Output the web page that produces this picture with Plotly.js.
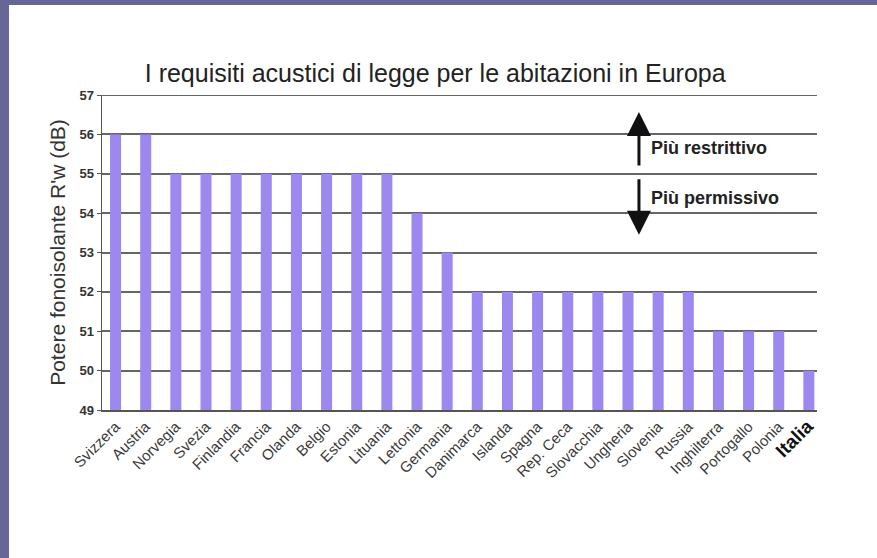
<!DOCTYPE html>
<html>
<head>
<meta charset="utf-8">
<script src="https://cdn.plot.ly/plotly-3.0.1.min.js"></script>
<style>
html, body { margin: 0; padding: 0; width: 877px; height: 558px; background: #666699; overflow: hidden; }
#chart { position: absolute; left: 9px; top: 5px; width: 868px; height: 553px; background: #ffffff; }
</style>
</head>
<body>
<div id="chart"></div>
<script>
var countries = ["Svizzera","Austria","Norvegia","Svezia","Finlandia","Francia","Olanda","Belgio","Estonia","Lituania","Lettonia","Germania","Danimarca","Islanda","Spagna","Rep. Ceca","Slovacchia","Ungheria","Slovenia","Russia","Inghilterra","Portogallo","Polonia","Italia"];
var values = [56,56,55,55,55,55,55,55,55,55,54,53,52,52,52,52,52,52,52,52,51,51,51,50];
var tickLabels = countries.map(function(c){ return c === "Italia" ? '<b style="font-size:19px;color:#111">Italia</b>' : c; });
var yTicks = [49,50,51,52,53,54,55,56,57];

var trace = {
  type: 'bar',
  x: countries,
  y: values,
  base: 0,
  marker: { color: '#9c88ee', line: { width: 0 } },
  hoverinfo: 'x+y'
};

var layout = {
  width: 868, height: 553,
  paper_bgcolor: '#ffffff', plot_bgcolor: '#ffffff',
  margin: { l: 93, r: 60, t: 90, b: 148 },
  showlegend: false,
  bargap: 0.635,
  font: { family: 'Liberation Sans, Arial, sans-serif', color: '#333' },
  title: {
    text: 'I requisiti acustici di legge per le abitazioni in Europa',
    font: { family: 'Liberation Sans, Arial, sans-serif', size: 25, color: '#222' },
    x: 0.491, xanchor: 'center', y: 0.877, yanchor: 'middle', yref: 'container'
  },
  xaxis: {
    type: 'category',
    range: [-0.45, 23.27],
    tickmode: 'array',
    tickvals: countries,
    ticktext: tickLabels,
    tickangle: -45,
    tickfont: { size: 15, color: '#3a3a3a', family: 'Liberation Sans, Arial, sans-serif' },
    ticks: '',
    showgrid: false,
    showline: true, linecolor: '#555', linewidth: 2,
    zeroline: false, fixedrange: true
  },
  yaxis: {
    range: [49, 57],
    tickmode: 'array',
    tickvals: yTicks,
    ticktext: yTicks.map(String),
    tickfont: { size: 13, color: '#333', family: 'Liberation Sans, Arial, sans-serif', weight: 'bold' },
    ticks: 'outside', ticklen: 4, tickcolor: '#555', tickwidth: 1,
    showgrid: true, gridcolor: '#666', gridwidth: 2,
    showline: true, linecolor: '#555', linewidth: 1.5,
    zeroline: false,
    title: { text: "Potere fonoisolante R'w (dB)", font: { size: 21, color: '#333' }, standoff: 8 },
    fixedrange: true
  },
  shapes: [
    { type: 'line', xref: 'paper', yref: 'y', x0: 0, x1: 1, y0: 57, y1: 57, line: { color: '#666', width: 2 }, layer: 'below' }
  ],
  annotations: [
    { xref: 'paper', yref: 'y', x: 0.751, y: 56.57, axref: 'pixel', ayref: 'pixel', ax: 0, ay: 55,
      text: '', showarrow: true, arrowhead: 2, arrowsize: 1.6, arrowwidth: 3, arrowcolor: '#111', standoff: 0 },
    { xref: 'paper', yref: 'y', x: 0.751, y: 53.45, axref: 'pixel', ayref: 'pixel', ax: 0, ay: -57,
      text: '', showarrow: true, arrowhead: 2, arrowsize: 1.6, arrowwidth: 3, arrowcolor: '#111', standoff: 0 },
    { xref: 'paper', yref: 'y', x: 0.765, y: 55.65, xanchor: 'left', yanchor: 'middle', showarrow: false,
      text: '<b>Più restrittivo</b>', font: { size: 18, color: '#222' } },
    { xref: 'paper', yref: 'y', x: 0.765, y: 54.39, xanchor: 'left', yanchor: 'middle', showarrow: false,
      text: '<b>Più permissivo</b>', font: { size: 18, color: '#222' } }
  ]
};

Plotly.newPlot('chart', [trace], layout, { displayModeBar: false, staticPlot: true });
</script>
</body>
</html>
